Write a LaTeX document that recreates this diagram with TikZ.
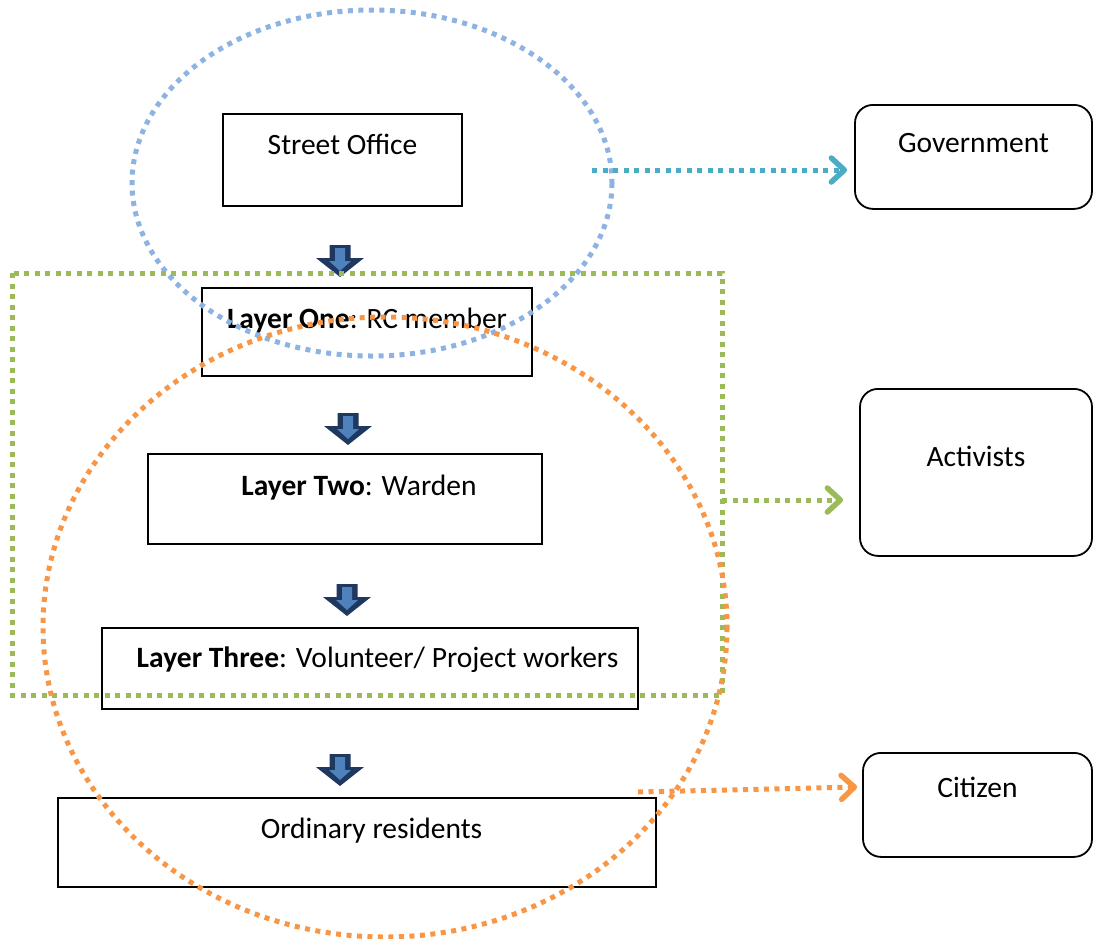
\documentclass[tikz,border=0pt]{standalone}
\usepackage{fontspec}
\setmainfont{Carlito}
\usepackage{tikz}
\usetikzlibrary{arrows.meta}

\tikzset{
  pics/downarrow/.style={code={
    \fill[navy] (-10.5,0) -- (10.5,0) -- (10.5,13) -- (24,13) -- (0,32)
      -- (-24,13) -- (-10.5,13) -- cycle;
    \fill[lightblue] (-5,3) -- (5,3) -- (5,16) -- (11,16) -- (0,26)
      -- (-11,16) -- (-5,16) -- cycle;
  }}
}

\begin{document}
\begin{tikzpicture}[x=1pt,y=-1pt]
  \definecolor{navy}     {RGB}{31,56,96};
  \definecolor{lightblue}{RGB}{79,129,189};
  \definecolor{office}   {RGB}{141,179,226};
  \definecolor{active}   {RGB}{155,187,89};
  \definecolor{resident} {RGB}{247,150,70};
  \definecolor{govt}     {RGB}{75,172,198};
  \tikzstyle{layer}=[draw,line width=2.2pt,inner sep=0pt,anchor=north,
    font=\fontsize{29.5}{34}\selectfont]
  \tikzstyle{role}=[layer,rounded corners=18pt,line width=1.8pt]
  \tikzstyle{dots}=[line width=5pt,dash pattern=on 5pt off 5.5pt]
  \tikzstyle{link}=[dots,-{Straight Barb[round,length=13pt,width=24pt,line width=5.5pt]}]
  \useasboundingbox (0,0) rectangle (1094,938);

  \node (office) at (342.5,113) [layer,minimum width=239pt,text height=40pt,text depth=52pt]
    {Street Office};
  \node (one) at (367,287) [layer,minimum width=330pt,text height=40pt,text depth=48pt]
    {\textbf{Layer One}: RC member};
  \node (two) at (345,453) [layer,minimum width=394pt,text height=41pt,text depth=49pt]
    {\hspace*{28pt}\textbf{Layer Two}: Warden};
  \node (three) at (370,627) [layer,minimum width=536pt,text height=39pt,text depth=42pt]
    {\hspace*{15pt}\textbf{Layer Three}: Volunteer/ Project workers};
  \node (ordinary) at (357,797) [layer,minimum width=598pt,text height=40pt,text depth=49pt]
    {\hspace*{29pt}Ordinary residents};

  \node (government) at (973.5,104) [role,minimum width=237pt,text height=48pt,text depth=56pt]
    {Government};
  \node (activists) at (976,388) [role,minimum width=232pt,text height=78pt,text depth=89pt]
    {Activists};
  \node (citizen) at (977.5,752) [role,minimum width=229pt,text height=45pt,text depth=59pt]
    {Citizen};

  \pic at (340,245) {downarrow};
  \pic at (348,413) {downarrow};
  \pic at (347,584) {downarrow};
  \pic at (340,754) {downarrow};

  \draw[dots,office] (372,183) ellipse [x radius=240,y radius=173];
  \draw[dots,active] (12,273) rectangle (722,695);
  \draw[dots,resident] (385,627) ellipse [x radius=342,y radius=310];

  \coordinate (govstart) at (592,170);
  \coordinate (actstart) at (722,500);
  \coordinate (citstart) at (638,792);
  \draw[link,govt] (govstart) -- ([xshift=-7pt]government.west |- govstart);
  \draw[link,active] (actstart) -- ([xshift=-16pt]activists.west |- actstart);
  \draw[link,resident] (citstart) -- ([xshift=-5pt,yshift=5pt]citizen.west |- citstart);
\end{tikzpicture}
\end{document}
